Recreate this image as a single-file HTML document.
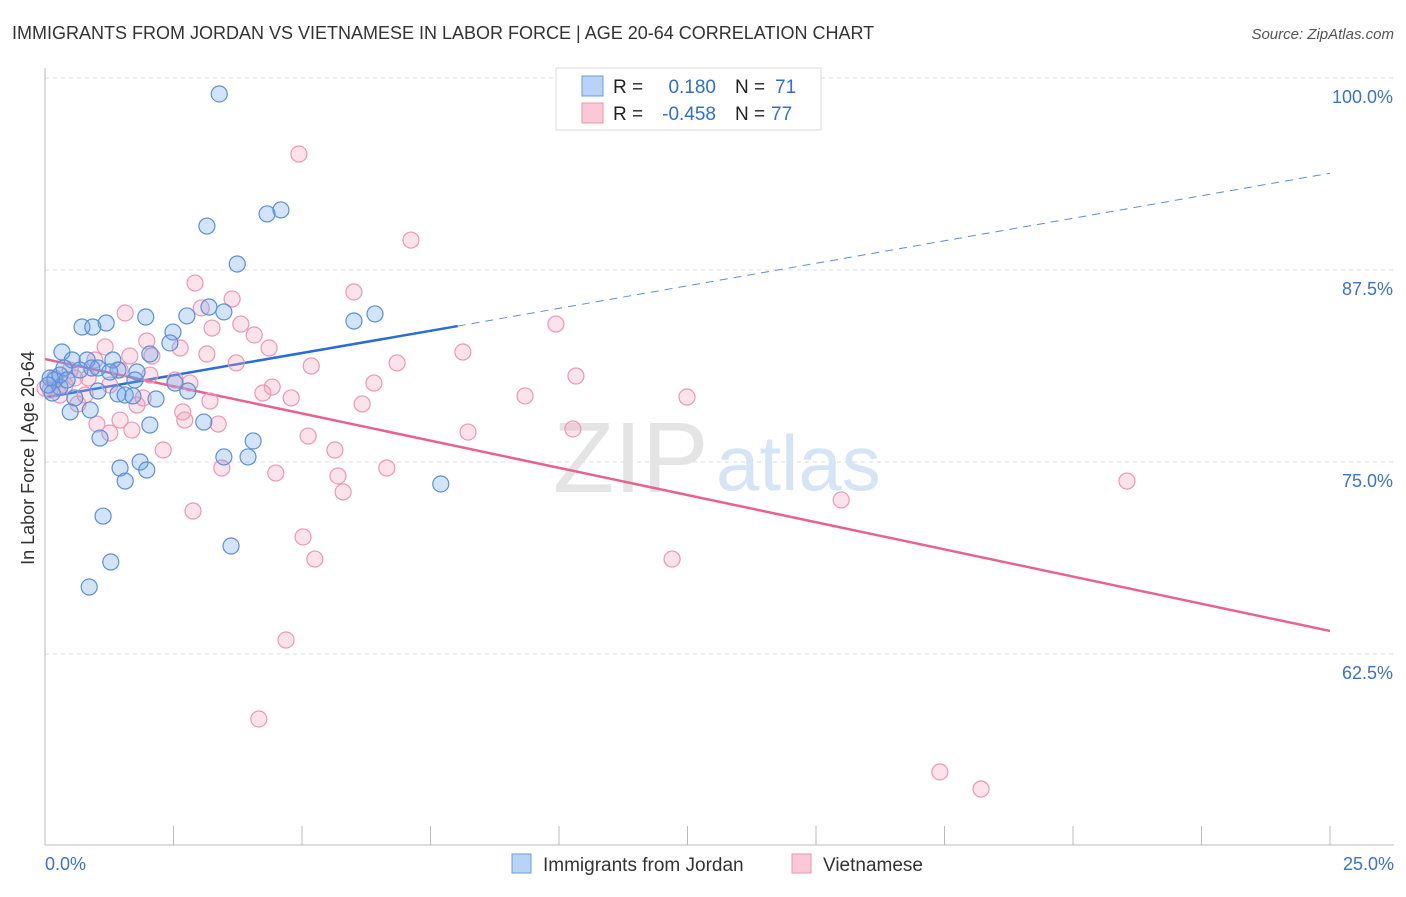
<!DOCTYPE html>
<html><head><meta charset="utf-8"><style>
body{margin:0;background:#fff;font-family:"Liberation Sans",sans-serif;}
svg text{font-family:"Liberation Sans",sans-serif;}
</style></head><body>
<svg id="chart" width="1406" height="892" viewBox="0 0 1406 892" xmlns="http://www.w3.org/2000/svg">
<text x="12" y="39" font-size="18" fill="#333">IMMIGRANTS FROM JORDAN VS VIETNAMESE IN LABOR FORCE | AGE 20-64 CORRELATION CHART</text>
<text x="1394" y="39" font-size="15" fill="#555" text-anchor="end" font-style="italic">Source: ZipAtlas.com</text>
<g id="grid"></g>
<g>
<text x="553" y="492" font-size="100" fill="#e4e4e4" font-family="Liberation Serif, serif">ZIP</text>
<text x="716" y="490" font-size="78" fill="#d6e5f5">atlas</text>
</g>
<g id="axes"></g>
<g id="trends"></g>
<g id="points"></g>
<text transform="translate(34,458) rotate(-90)" font-size="18" fill="#333" text-anchor="middle">In Labor Force | Age 20-64</text>
<g>
<rect x="556" y="68" width="265" height="62" fill="#fff" stroke="#ddd"/>
<rect x="582" y="76" width="21" height="20" fill="#b8d3f5" stroke="#6a9ee0"/>
<rect x="582" y="103" width="21" height="20" fill="#fac8d6" stroke="#eb93ad"/>
<text x="613" y="93" font-size="19" fill="#222">R =</text>
<text x="716" y="93" font-size="19" fill="#2f6fd0" text-anchor="end">0.180</text>
<text x="735" y="93" font-size="19" fill="#222">N =</text>
<text x="775" y="93" font-size="19" fill="#2f6fd0">71</text>
<text x="613" y="120" font-size="19" fill="#222">R =</text>
<text x="716" y="120" font-size="19" fill="#2f6fd0" text-anchor="end">-0.458</text>
<text x="735" y="120" font-size="19" fill="#222">N =</text>
<text x="771" y="120" font-size="19" fill="#2f6fd0">77</text>
</g>
<g>
<rect x="512" y="854" width="19" height="19" fill="#b8d3f5" stroke="#6a9ee0"/>
<text x="543" y="871" font-size="19" fill="#333">Immigrants from Jordan</text>
<rect x="792" y="854" width="19" height="19" fill="#fac8d6" stroke="#eb93ad"/>
<text x="823" y="871" font-size="19" fill="#333">Vietnamese</text>
</g>
</svg>
<script>
const xTickLabels=["0.0%","25.0%"];
const yTicks=[100,87.5,75,62.5];
const yTickLabels=["100.0%","87.5%","75.0%","62.5%"];
const jordanX=[3.39,4.59,4.32,3.15,3.74,3.19,2.76,3.48,1.96,6.01,6.42,1.19,0.72,0.93,2.49,2.43,2.04,0.33,1.32,0.53,0.82,0.37,1.03,1.42,1.79,1.75,2.53,2.78,1.03,1.42,1.56,1.71,2.16,0.58,0.29,0.19,0.10,0.14,0.88,0.49,2.04,3.09,4.05,1.07,3.48,3.95,1.85,1.46,1.98,1.56,7.70,1.13,3.62,1.28,0.86,0.06,0.29,0.43,0.68,1.26,0.91];
const jordanY=[98.96,91.41,91.15,90.36,87.89,85.09,84.51,84.77,84.44,84.18,84.64,84.05,83.79,83.79,83.46,82.75,82.03,82.16,81.64,81.64,81.64,81.12,81.12,80.99,80.86,80.34,80.14,79.62,79.62,79.43,79.36,79.30,79.10,79.17,79.88,80.34,80.47,79.49,78.39,78.26,77.41,77.60,76.37,76.56,75.33,75.33,75.00,74.61,74.48,73.76,73.57,71.48,69.53,68.49,66.86,80.01,80.66,80.34,80.99,80.86,81.12];
const vietX=[4.94,7.12,2.92,6.01,3.64,3.04,1.56,9.94,3.81,3.25,4.07,1.98,2.63,4.36,1.17,8.13,2.08,1.65,3.15,3.72,6.85,5.18,1.46,10.33,0.84,6.40,2.82,4.42,4.24,4.79,9.34,12.49,1.91,3.21,1.79,6.17,0.64,2.68,3.37,1.01,1.69,10.27,8.23,1.26,5.12,5.64,2.30,3.44,6.65,4.49,5.70,21.05,5.80,15.49,2.88,5.02,5.25,12.20,4.69,4.16,17.41,18.21,0.10,0.19,0.39,0.58,0.29,1.26,0.97,2.04,2.53,2.72,0.0,0.49,0.78,1.46];
const vietY=[95.05,89.45,86.65,86.07,85.61,85.03,84.70,83.98,83.98,83.72,83.27,82.88,82.42,82.42,82.49,82.16,81.90,81.90,82.03,81.45,81.45,81.25,80.99,80.60,80.47,80.14,80.14,79.88,79.49,79.17,79.30,79.23,79.17,78.97,78.71,78.78,78.78,78.26,77.47,77.47,77.08,77.15,76.95,76.89,76.69,75.78,75.78,74.61,74.61,74.28,74.09,73.76,73.05,72.53,71.81,70.12,68.68,68.68,63.41,58.27,54.82,53.71,79.69,80.47,80.01,80.47,79.36,80.01,81.64,80.66,80.34,77.73,79.8,80.99,79.36,77.73];
const jordanTrend=[[0,79.2],[8.03,83.85]];
const jordanTrendExt=[8.03,83.85,25,93.8];
const vietTrend=[[0,81.7],[25,64.0]];
const NS="http://www.w3.org/2000/svg";
const x=v=>45+v*51.4;
const y=v=>78+(100-v)*15.36;
function mk(tag,attrs,parent){const e=document.createElementNS(NS,tag);for(const k in attrs)e.setAttribute(k,attrs[k]);parent.appendChild(e);return e;}
const grid=document.getElementById('grid'),axes=document.getElementById('axes'),pts=document.getElementById('points'),tr=document.getElementById('trends');
yTicks.forEach((t,i)=>{
 const l=mk('line',{x1:45,x2:1394,y1:y(t),y2:y(t),stroke:'#ddd','stroke-dasharray':'4,4'},grid);
 
 
 const tx=mk('text',{x:1393,y:y(t)+25,'font-size':18,fill:'#3a72cc','text-anchor':'end'},axes);
 tx.textContent=yTickLabels[i];
 
 
});
mk('line',{x1:45,x2:45,y1:68,y2:845,stroke:'#bbb'},axes);
mk('line',{x1:45,x2:1394,y1:845,y2:845,stroke:'#bbb'},axes);
for(let i=0;i<=10;i++){const t=mk('line',{x1:x(i*2.5),x2:x(i*2.5),y1:826,y2:845,stroke:'#bbb'},axes);
 
 }
const xl0=mk('text',{x:45,y:870,'font-size':18,fill:'#3a72cc'},axes);xl0.textContent=xTickLabels[0];


const xl1=mk('text',{x:1394,y:870,'font-size':18,fill:'#3a72cc','text-anchor':'end'},axes);xl1.textContent=xTickLabels[1];


vietX.forEach((v,i)=>{const c=mk('circle',{cx:x(v),cy:y(vietY[i]),r:8,fill:'rgba(243,160,188,0.3)',stroke:'#ec98b3','stroke-width':1.2},pts);
 
 });
jordanX.forEach((v,i)=>{const c=mk('circle',{cx:x(v),cy:y(jordanY[i]),r:8,fill:'rgba(110,165,232,0.3)',stroke:'#5a90dc','stroke-width':1.2},pts);
 
 });
const bt=mk('line',{x1:x(jordanTrend[0][0]),y1:y(jordanTrend[0][1]),x2:x(jordanTrend[1][0]),y2:y(jordanTrend[1][1]),stroke:'#2a6dd4','stroke-width':2.5},tr);


const be=mk('line',{x1:x(jordanTrendExt[0]),y1:y(jordanTrendExt[1]),x2:x(jordanTrendExt[2]),y2:y(jordanTrendExt[3]),stroke:'#5a8fd8','stroke-width':1,'stroke-dasharray':'8,6'},tr);


const pt=mk('line',{x1:x(vietTrend[0][0]),y1:y(vietTrend[0][1]),x2:x(vietTrend[1][0]),y2:y(vietTrend[1][1]),stroke:'#e8628f','stroke-width':2.5},tr);


</script>
</body></html>
